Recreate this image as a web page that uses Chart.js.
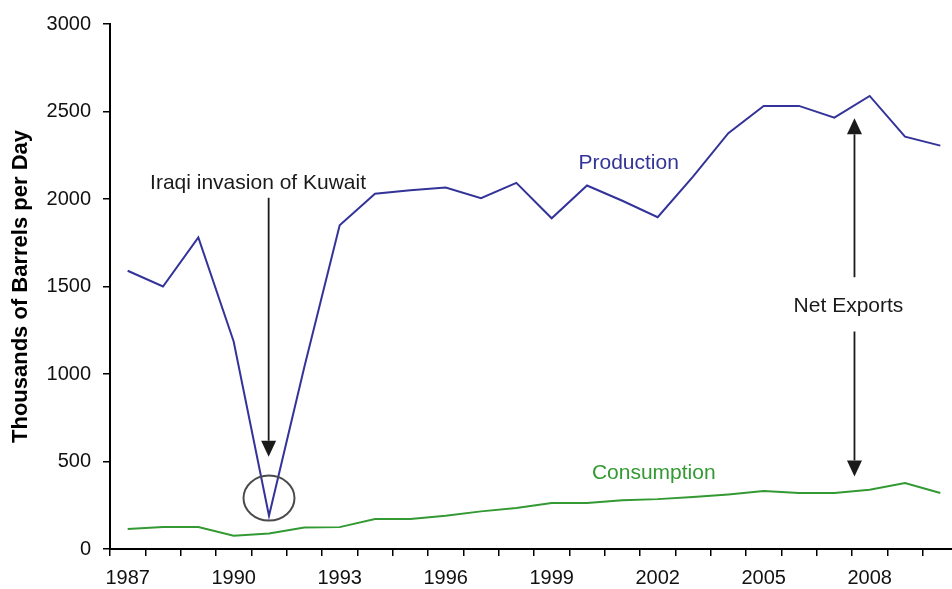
<!DOCTYPE html>
<html><head><meta charset="utf-8">
<script src="https://cdn.jsdelivr.net/npm/chart.js@4/dist/chart.umd.min.js"></script>
<style>
html,body{margin:0;padding:0;overflow:hidden;background:#fff}
#wrap{position:relative;width:958px;height:589px}
</style>
</head><body>
<div id="wrap"><canvas id="c"></canvas></div>
<script>
// ---- data ----
const years = ['1987','1988','1989','1990','1991','1992','1993','1994','1995','1996','1997','1998',
               '1999','2000','2001','2002','2003','2004','2005','2006','2007','2008','2009','2010'];
const production = [1590,1500,1780,1186,190,1040,1850,2030,2050,2065,2005,2092,
                    1890,2077,1990,1896,2128,2376,2532,2532,2465,2589,2356,2305];
const consumption = [114,126,126,76,89,123,125,171,171,190,215,234,
                     263,263,278,285,297,312,331,320,320,339,377,320];
const yTicks = [0,500,1000,1500,2000,2500,3000];
const xTickLabels = ['1987','1990','1993','1996','1999','2002','2005','2008'];

const FONT = '"Liberation Sans", Arial, sans-serif';
const BLUE = '#333399';
const GREEN = '#339933';
const INK = '#1a1a1a';

// annotation plugin (positions expressed in category index / data value)
const annot = {
  id: 'annot',
  afterDatasetsDraw(chart) {
    const {ctx, scales: {x, y}} = chart;
    const step = x.getPixelForValue(1) - x.getPixelForValue(0);
    const px = i => x.getPixelForValue(0) + i * step;
    const py = v => y.getPixelForValue(v);
    ctx.save();
    ctx.font = '21px ' + FONT;
    ctx.textAlign = 'center';
    ctx.textBaseline = 'middle';
    const text = (t, i, v, c) => { ctx.fillStyle = c; ctx.fillText(t, px(i), py(v)); };
    text('Iraqi invasion of Kuwait', 3.69, 2092, INK);
    text('Production', 14.18, 2204, BLUE);
    text('Consumption', 14.89, 434, GREEN);
    text('Net Exports', 20.4, 1389, INK);

    const arrow = (i, v0, v1) => {
      const X = px(i), y0 = py(v0), y1 = py(v1);
      const dir = y1 > y0 ? 1 : -1;
      const L = 16, W = 7.5;
      ctx.strokeStyle = INK; ctx.fillStyle = INK; ctx.lineWidth = 1.8;
      ctx.beginPath(); ctx.moveTo(X, y0); ctx.lineTo(X, y1 - dir * L); ctx.stroke();
      ctx.beginPath(); ctx.moveTo(X, y1); ctx.lineTo(X - W, y1 - dir * L); ctx.lineTo(X + W, y1 - dir * L);
      ctx.closePath(); ctx.fill();
    };
    arrow(3.99, 2007, 527);
    arrow(20.57, 1553, 2461);
    arrow(20.57, 1243, 415);

    ctx.strokeStyle = '#4a4a4a'; ctx.lineWidth = 2;
    ctx.beginPath(); ctx.ellipse(px(4), py(291), 25.5, 22.5, 0, 0, Math.PI * 2); ctx.stroke();
    ctx.restore();
  }
};

new Chart(document.getElementById('c'), {
  type: 'line',
  data: {
    labels: years,
    datasets: [
      {label: 'Production', data: production, borderColor: BLUE, borderWidth: 2, pointRadius: 0, tension: 0, fill: false},
      {label: 'Consumption', data: consumption, borderColor: GREEN, borderWidth: 2, pointRadius: 0, tension: 0, fill: false}
    ]
  },
  options: {
    responsive: true,
    maintainAspectRatio: false,
    animation: false,
    layout: {padding: {top: 24, left: 0, right: 0, bottom: 0}},
    plugins: {legend: {display: false}, tooltip: {enabled: false}},
    scales: {
      x: {
        type: 'category',
        offset: true,
        afterFit(s) { s.height = 40; },
        grid: {offset: true, drawOnChartArea: false, drawTicks: true, tickLength: 7, color: '#000', lineWidth: 1.5},
        border: {display: true, color: '#000', width: 2},
        ticks: {
          autoSkip: false, maxRotation: 0, minRotation: 0, padding: 10,
          color: '#111', font: {family: FONT, size: 20},
          callback: function (v) { const l = this.getLabelForValue(v); return xTickLabels.includes(l) ? l : ''; }
        }
      },
      y: {
        min: 0, max: 3000,
        afterFit(s) { s.width = 110; },
        afterBuildTicks(s) { s.ticks = yTicks.map(v => ({value: v})); },
        grid: {drawOnChartArea: false, drawTicks: true, tickLength: 7, color: '#000', lineWidth: 1.5},
        border: {display: true, color: '#000', width: 2},
        ticks: {padding: 12, color: '#111', font: {family: FONT, size: 20}, callback: v => String(v)},
        title: {display: true, text: 'Thousands of Barrels per Day', color: '#000',
                font: {family: FONT, size: 22, weight: 'bold'}, padding: {top: 8, bottom: 0}}
      }
    }
  },
  plugins: [annot]
});
</script>
</body></html>
